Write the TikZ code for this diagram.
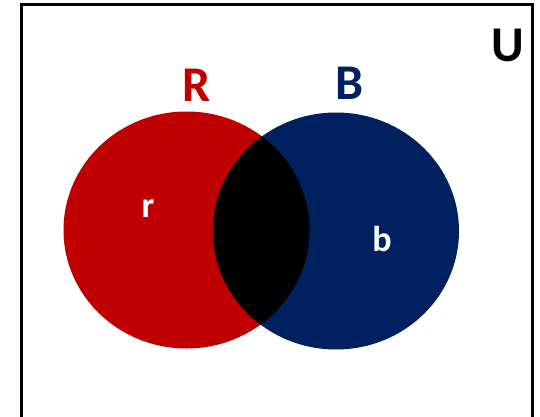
\documentclass[tikz,border=0pt]{standalone}
\usepackage{fontspec}
\setmainfont{Carlito}
\usetikzlibrary{shapes.geometric}
\definecolor{setred}{HTML}{C00000}
\definecolor{setblue}{HTML}{002060}

\begin{document}
\begin{tikzpicture}[x=1pt,y=-1pt,
  set/.style={ellipse,minimum width=246pt,minimum height=237pt,inner sep=0pt},
  big/.style={font=\fontsize{50}{60}\selectfont\bfseries,inner sep=0pt},
  small/.style={font=\fontsize{36}{44}\selectfont\bfseries,inner sep=0pt,text=white}]
  \useasboundingbox (0,0) rectangle (540,417);
  % universe frame, open at the bottom
  \draw[line width=3pt] (21,420) -- (21,5) -- (532,5) -- (532,420);
  \node[set,fill=setred] (R) at (186.5,230) {};
  \node[set,fill=setblue] (B) at (336,231) {};
  % overlap
  \begin{scope}
    \clip (186.5,230) ellipse (123pt and 118.5pt);
    \fill[black] (336,231) ellipse (123pt and 118.5pt);
  \end{scope}
  \node[big,text=setred] (Rlbl) at (197,85) {R};
  \node[big,text=setblue] (Blbl) at (350,83) {B};
  \node[big] (U) at (508,45) {U};
  \node[small] (r) at (148,209) {r};
  \node[small] (b) at (382,239) {b};
\end{tikzpicture}
\end{document}
